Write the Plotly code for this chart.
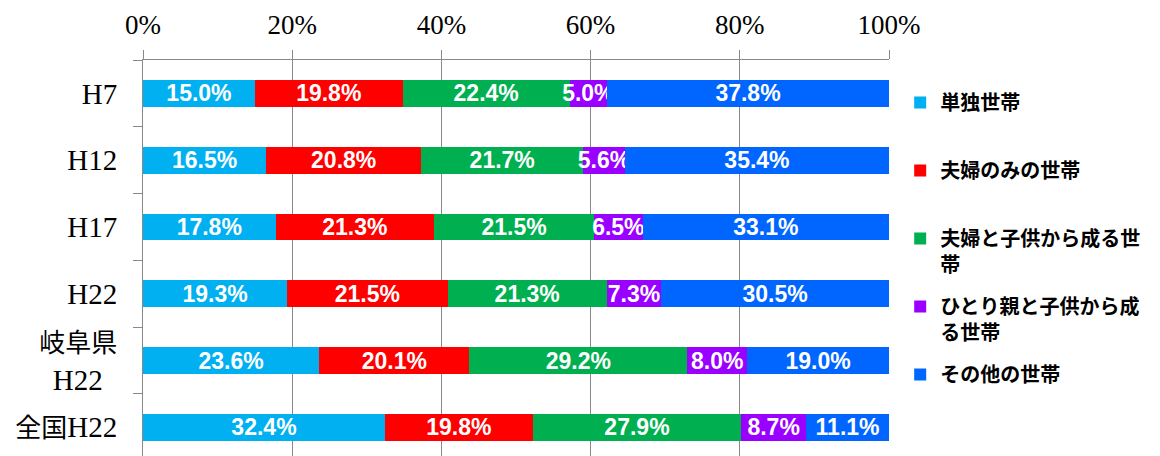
import plotly.graph_objects as go

categories = ["H7", "H12", "H17", "H22", "岐阜県<br>H22", "全国H22"]
series_names = [
    "単独世帯",
    "夫婦のみの世帯",
    "夫婦と子供から成る世<br>帯",
    "ひとり親と子供から成<br>る世帯",
    "その他の世帯",
]
single = [15.0, 16.5, 17.8, 19.3, 23.6, 32.4]
couple = [19.8, 20.8, 21.3, 21.5, 20.1, 19.8]
couple_child = [22.4, 21.7, 21.5, 21.3, 29.2, 27.9]
single_parent = [5.0, 5.6, 6.5, 7.3, 8.0, 8.7]
other = [37.8, 35.4, 33.1, 30.5, 19.0, 11.1]
x_ticks = [0, 20, 40, 60, 80, 100]

colors = ["#00B0F0", "#FF0000", "#00B050", "#9900FF", "#0066FF"]
series_values = [single, couple, couple_child, single_parent, other]


def style_label(lbl):
    # CJK glyphs are drawn a little smaller than the Latin serif glyphs
    out = ""
    for ch in lbl.replace("<br>", "\n"):
        if ch == "\n":
            out += "<br>"
        elif ord(ch) > 0x2E80:
            out += '<span style="font-size:26px">' + ch + "</span>"
        else:
            out += ch
    if "<br>" in out:
        out = out + "\u00a0\u00a0"
    return out


fig = go.Figure()
for i, (name, vals, col) in enumerate(zip(series_names, series_values, colors)):
    legend_name = name if "<br>" in name else name + "<br>\u00a0"
    fig.add_trace(go.Bar(
        y=categories, x=vals, orientation="h", name=legend_name,
        legendgroup=f"g{i}",
        marker=dict(color=col, line=dict(width=0)),
        text=vals, texttemplate="%{text:.1f}%",
        textposition="inside", insidetextanchor="middle",
        constraintext="none",
        insidetextfont=dict(family="Liberation Sans", size=23, color="white", weight="bold"),
        hoverinfo="skip",
    ))

grid = "#898989"
fig.update_layout(
    barmode="stack", barnorm="percent", bargap=0.6,
    width=1160, height=456,
    margin=dict(l=143, r=271, t=60, b=0),
    paper_bgcolor="white", plot_bgcolor="white",
    showlegend=True,
    legend=dict(
        x=1.015, xanchor="left", y=0.942, yanchor="top",
        traceorder="grouped", tracegroupgap=13, valign="top",
        font=dict(family="Noto Sans CJK JP", size=20, color="black", weight="bold"),
        itemclick=False,
    ),
    xaxis=dict(
        range=[0, 100], tickvals=x_ticks, ticktext=[f"{v}%" for v in x_ticks],
        side="top",
        showgrid=True, gridcolor=grid, gridwidth=1,
        showline=True, linecolor=grid, linewidth=1,
        ticks="outside", ticklen=9, tickcolor=grid,
        tickfont=dict(family="Liberation Serif", size=27, color="black"),
        zeroline=False, fixedrange=True, automargin=False,
        ticklabelstandoff=5,
    ),
    yaxis=dict(
        categoryorder="array", categoryarray=categories,
        tickvals=categories, ticktext=[style_label(c) for c in categories],
        range=[5.43, -0.5],
        showline=True, linecolor=grid, linewidth=1,
        ticks="outside", ticklen=9, tickcolor=grid, tickson="boundaries",
        tickfont=dict(family="Liberation Serif, Noto Sans CJK JP", size=29, color="black"),
        showgrid=False, zeroline=False, fixedrange=True, automargin=False,
        ticklabelstandoff=19,
    ),
)

fig.write_html(
    "out.html",
    config={"displayModeBar": False},
    post_script="document.body.style.margin='0';",
)
